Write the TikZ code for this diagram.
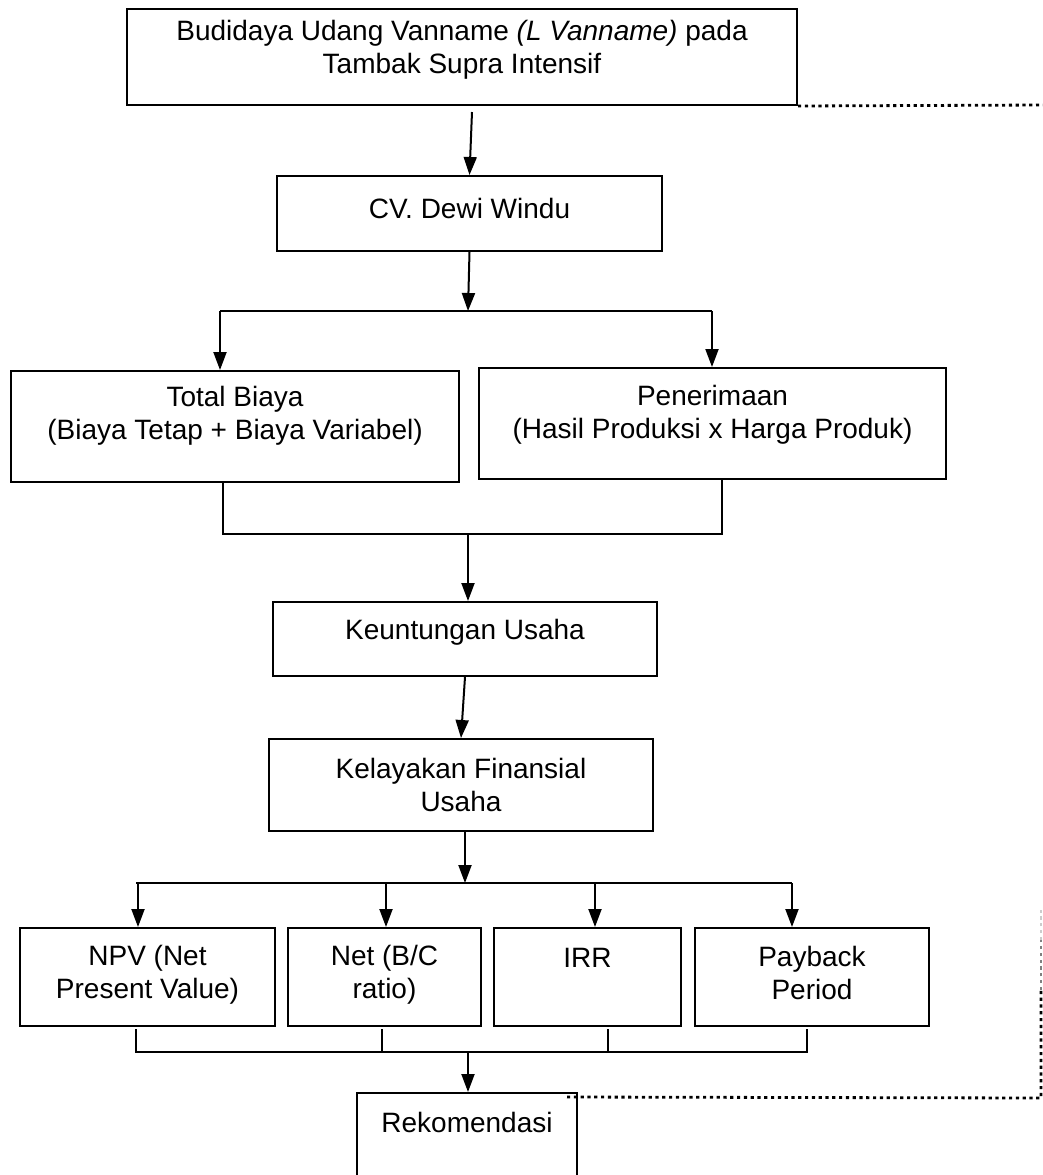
\documentclass[tikz,border=0pt]{standalone}
\usepackage{fontspec}
\setmainfont{Liberation Sans}
\usetikzlibrary{arrows.meta,calc}
\begin{document}
\begin{tikzpicture}[x=0.5pt,y=-0.5pt,
  bx/.style 2 args={draw,line width=1pt,rectangle,inner sep=0pt,minimum width=#1*0.5pt,minimum height=#2*0.5pt},
  txt/.style={font=\fontsize{14}{16.5}\selectfont,align=center,inner sep=0pt},
  ln/.style={line width=1pt},
  arr/.style={line width=1pt,-{Triangle[width=6.5pt,length=9pt]}},
  dotl/.style={line width=1.4pt,dash pattern=on 1.6pt off 1.8pt}]
\useasboundingbox (0,0) rectangle (1043,1175);

% boxes
\node[bx={670}{96}] (top) at (462,57) {};
\node[txt] (topt) at (462,50) {Budidaya Udang Vanname \textit{(L Vanname)} pada\\Tambak Supra Intensif};
\node[bx={385}{75}] (cv) at (469.5,213.5) {};
\node[txt] (cvt) at (469.5,208) {CV. Dewi Windu};
\node[bx={448}{111}] (tb) at (235,426.5) {};
\node[txt] (tbt) at (235,416) {Total Biaya\\(Biaya Tetap + Biaya Variabel)};
\node[bx={467}{111}] (pen) at (712.5,423.5) {};
\node[txt] (pent) at (712.5,415) {Penerimaan\\(Hasil Produksi x Harga Produk)};
\node[bx={384}{74}] (keu) at (465,639) {};
\node[txt] (keut) at (465,632) {Keuntungan Usaha};
\node[bx={384}{92}] (kel) at (461,785) {};
\node[txt] (kelt) at (461,785) {Kelayakan Finansial\\Usaha};
\node[bx={255}{98}] (npv) at (147.5,977) {};
\node[txt] (npvt) at (147.5,975) {NPV (Net\\Present Value)};
\node[bx={193}{98}] (net) at (384.5,977) {};
\node[txt] (nett) at (384.5,975) {Net (B/C\\ratio)};
\node[bx={187}{98}] (irr) at (587.5,977) {};
\node[txt] (irrt) at (587.5,958) {IRR};
\node[bx={234}{98}] (pay) at (812,977) {};
\node[txt] (payt) at (812,973) {Payback\\Period};
\node[bx={220}{200}] (rekbox) at (467,1193) {};
\node[txt] (rek) at (467,1122) {Rekomendasi};

% coordinates
\coordinate (s1) at (468,311);
\coordinate (s1l) at (220,311);
\coordinate (s1r) at (712,311);
\coordinate (j1l) at (223,534);
\coordinate (j1r) at (722,534);
\coordinate (j1) at (468,534);
\coordinate (s2) at (465,883);
\coordinate (s2l) at (136,883);
\coordinate (s2r) at (792,883);
\coordinate (a1) at (138,883);
\coordinate (a2) at (386,883);
\coordinate (a3) at (595,883);
\coordinate (a4) at (792,883);
\coordinate (j2l) at (136,1052);
\coordinate (j2r) at (807,1052);
\coordinate (j2) at (468,1052);
\coordinate (t2) at (382,1052);
\coordinate (t3) at (608,1052);
\coordinate (d1) at (1043,105);
\coordinate (d3) at (1041,1098);
\coordinate (d4) at (1041,990);
\coordinate (d5) at (1041,940);
\coordinate (d6) at (1041,907);

% connectors
\draw[arr] ($(top.south)+(10,6)$) -- (cv.north);
\draw[arr] (cv.south) -- (s1);
\draw[ln] (s1l) -- (s1r);
\draw[arr] (s1l) -- (s1l |- tb.north);
\draw[arr] (s1r) -- (s1r |- pen.north);
\draw[ln] (tb.south -| j1l) -- (j1l) -- (j1r) -- (pen.south -| j1r);
\draw[arr] (j1) -- (keu.north -| j1);
\draw[arr] (keu.south) -- (kel.north);
\draw[arr] (kel.south -| s2) -- (s2);
\draw[ln] (s2l) -- (s2r);
\draw[arr] (a1) -- (a1 |- npv.north);
\draw[arr] (a2) -- (a2 |- net.north);
\draw[arr] (a3) -- (a3 |- irr.north);
\draw[arr] (a4) -- (a4 |- pay.north);
\draw[ln] ($(npv.south -| j2l)+(0,2)$) -- (j2l) -- (j2r) -- ($(pay.south -| j2r)+(0,2)$);
\draw[ln] (t2) -- ($(t2 |- net.south)+(0,2)$);
\draw[ln] (t3) -- ($(t3 |- irr.south)+(0,2)$);
\draw[arr] (j2) -- (j2 |- rekbox.north);

% dotted links
\draw[dotl] (top.south east) -- (d1);
\draw[dotl] ($(rekbox.north east)+(-11,5)$) -- (d3) -- (d4);
\draw[dotl,gray] (d4) -- (d5);
\draw[dotl,gray!40] (d5) -- (d6);
\end{tikzpicture}
\end{document}
